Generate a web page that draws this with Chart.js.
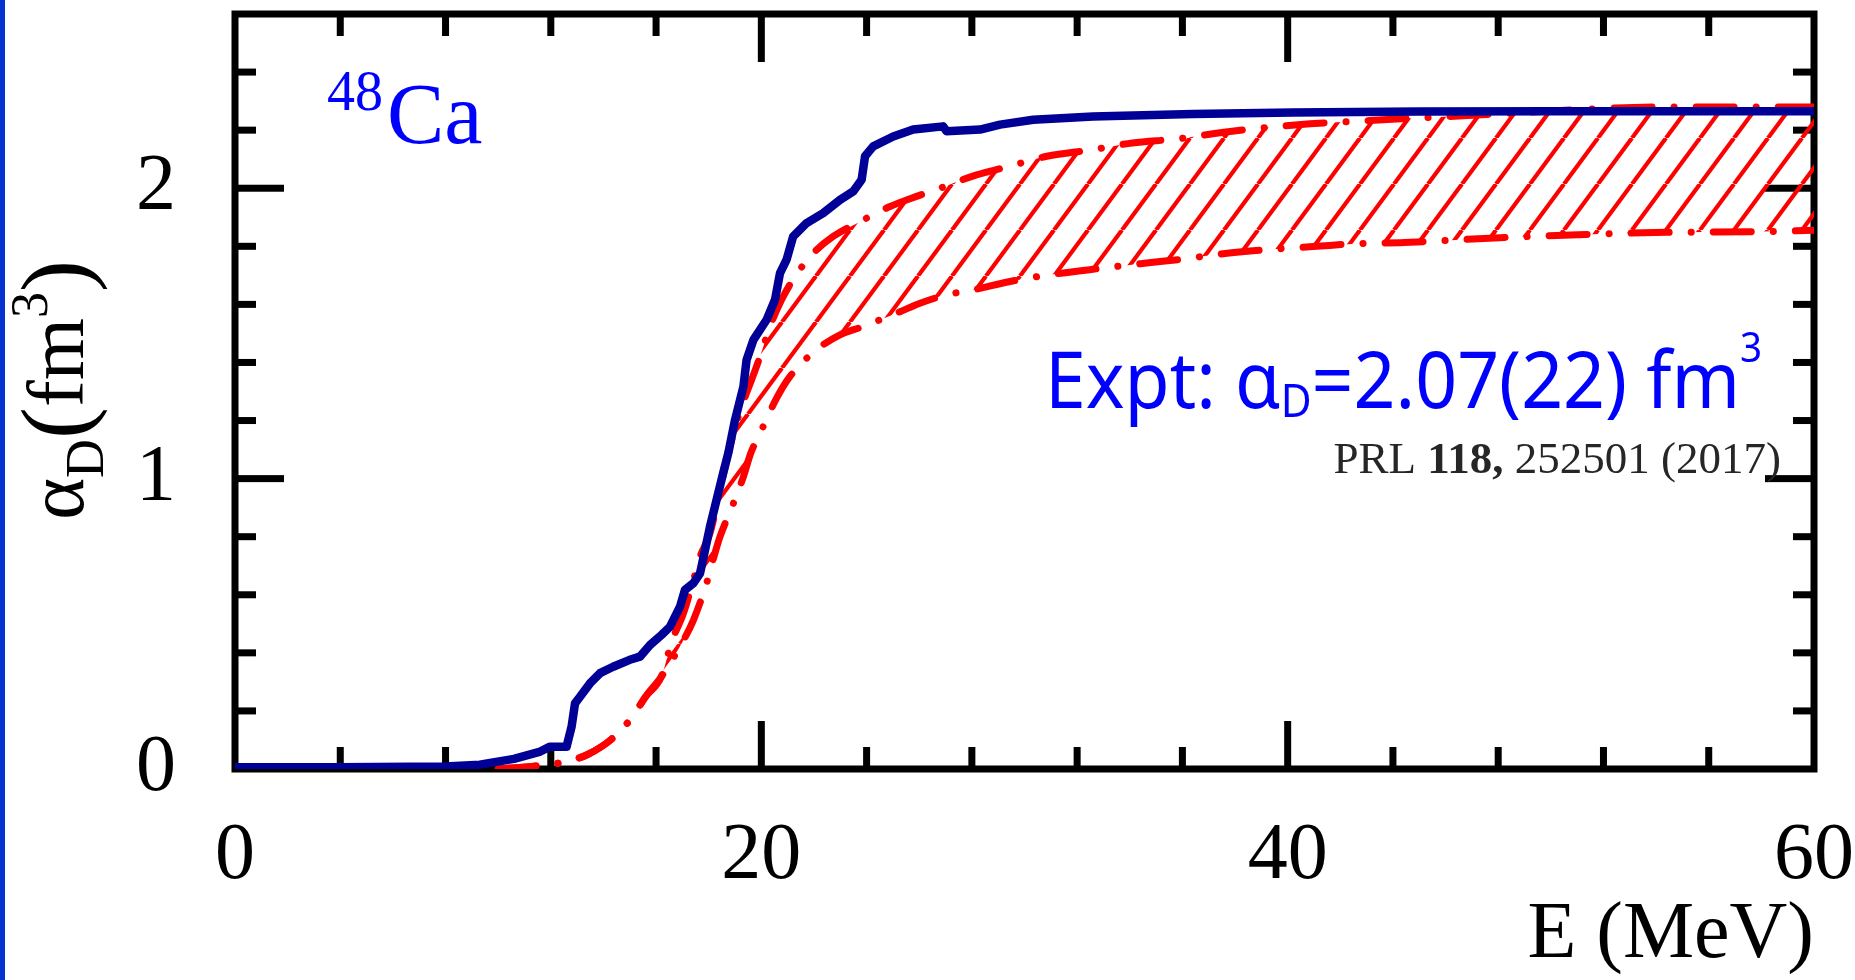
<!DOCTYPE html>
<html>
<head>
<meta charset="utf-8">
<script src="https://cdn.jsdelivr.net/npm/chart.js@4.4.1/dist/chart.umd.min.js"></script>
<style>
  html, body { margin: 0; padding: 0; background: #fff; }
  canvas { display: block; }
</style>
</head>
<body>
<canvas id="chart" width="1855" height="980"></canvas>
<script>
// values: E in MeV, alpha_D in fm^3
const blueE = [0, 4, 8, 9.3, 10.6, 11.6, 11.97, 12.6, 12.79, 12.92, 13.11, 13.49, 13.87, 14.37, 15.0, 15.39,
  15.77, 16.21, 16.53, 16.91, 17.1, 17.42, 17.67, 17.86, 18.05, 18.3, 18.55, 18.75, 19.0, 19.32, 19.44, 19.7,
  20.2, 20.52, 20.71, 20.96, 21.21, 21.72, 22.35, 22.99, 23.49, 23.81, 23.94, 24.25, 25.01, 25.77, 26.91,
  27.04, 28.31, 29.07, 30.33, 32.6, 36.4, 40.2, 45, 50, 55, 60];
const blueAlpha = [0.006, 0.006, 0.009, 0.015, 0.035, 0.06, 0.077, 0.077, 0.146, 0.226, 0.249, 0.295, 0.33,
  0.352, 0.376, 0.387, 0.427, 0.462, 0.49, 0.559, 0.617, 0.64, 0.674, 0.754, 0.835, 0.927, 1.019, 1.09, 1.202,
  1.317, 1.409, 1.478, 1.547, 1.616, 1.708, 1.754, 1.834, 1.88, 1.914, 1.96, 1.989, 2.029, 2.11, 2.144, 2.178,
  2.202, 2.213, 2.196, 2.202, 2.219, 2.236, 2.247, 2.256, 2.261, 2.264, 2.265, 2.265, 2.265];

const upperE = [10, 11.6, 12.4, 13.4, 14.4, 15.1, 15.6, 16.2, 16.6, 17.04, 17.42, 17.67, 18.05, 18.43, 18.87,
  19.25, 19.63, 19.95, 20.33, 20.77, 21.28, 21.97, 22.73, 23.75, 24.89, 25.9, 26.79, 28.18, 29.2, 30.85, 32.6,
  34.1, 35.8, 37.5, 39.05, 40.85, 42.5, 44.14, 47.37, 50.88, 54.26, 57.49, 60];
const upperAlpha = [0.0, 0.012, 0.022, 0.05, 0.11, 0.18, 0.249, 0.318, 0.44, 0.536, 0.651, 0.731, 0.812, 0.961,
  1.133, 1.248, 1.34, 1.42, 1.524, 1.616, 1.696, 1.776, 1.834, 1.885, 1.937, 1.972, 2.0, 2.046, 2.07, 2.11,
  2.133, 2.156, 2.17, 2.192, 2.208, 2.222, 2.23, 2.238, 2.253, 2.27, 2.28, 2.28, 2.28];

const lowerE = [10, 11.6, 12.4, 13.4, 14.4, 15.1, 15.6, 16.2, 16.97, 17.42, 17.92, 18.18, 18.43, 18.94, 19.32,
  19.6, 19.95, 20.58, 21.09, 22.1, 22.99, 23.87, 25.27, 26.03, 27.04, 28.05, 29.45, 30.97, 32.6, 34.4, 36.0,
  37.7, 39.45, 41.1, 42.6, 44.43, 47.66, 51.03, 54.4, 57.65, 60];
const lowerAlpha = [0.0, 0.012, 0.022, 0.05, 0.11, 0.18, 0.249, 0.318, 0.432, 0.513, 0.64, 0.725, 0.8, 0.915,
  1.007, 1.088, 1.156, 1.277, 1.352, 1.444, 1.495, 1.524, 1.575, 1.604, 1.633, 1.65, 1.679, 1.702, 1.721,
  1.74, 1.756, 1.776, 1.79, 1.8, 1.809, 1.813, 1.828, 1.84, 1.848, 1.85, 1.855];

const xLabels = [0, 20, 40, 60];
const yLabels = [0, 1, 2];

const SERIF = '"Liberation Serif", "Times New Roman", serif';
const RED = 'rgb(255,0,0)';
const BLUE = '#0000ff';

function toPoints(xs, ys) {
  return xs.map((x, i) => ({ x: x, y: ys[i] }));
}

// diagonal "/" hatching used between the two red curves
function makeHatch(color) {
  const w = 34, h = 46;
  const c = document.createElement('canvas');
  c.width = w; c.height = h;
  const g = c.getContext('2d');
  g.strokeStyle = color;
  g.lineWidth = 4.2;
  for (const dx of [-w, 0, w]) {
    g.beginPath();
    g.moveTo(dx, h);
    g.lineTo(dx + w, 0);
    g.stroke();
  }
  return g.createPattern(c, 'repeat');
}

function isOn(v, list) {
  return list.some(m => Math.abs(v - m) < 1e-6);
}

// keep the plot box where the figure has it: no extra label padding
function noPad(s) {
  s.paddingTop = 0;
  s.paddingBottom = 0;
  s.paddingLeft = 0;
  s.paddingRight = 0;
}

// black frame with inward ticks on all four sides
const frame = {
  id: 'frame',
  beforeDraw(chart) {
    const ctx = chart.ctx;
    ctx.save();
    ctx.fillStyle = '#0433d0';
    ctx.fillRect(0, 0, 5, chart.height);
    ctx.restore();
  },
  beforeDatasetsDraw(chart) {
    const { ctx, chartArea: a, scales } = chart;
    ctx.save();
    ctx.fillStyle = '#000';
    const tw = 7;
    scales.x.ticks.forEach(t => {
      if (t.value <= scales.x.min || t.value >= scales.x.max) return;
      const px = scales.x.getPixelForValue(t.value);
      const len = isOn(t.value, xLabels) ? 48 : 22;
      ctx.fillRect(px - tw / 2, a.bottom - len, tw, len);
      ctx.fillRect(px - tw / 2, a.top, tw, len);
    });
    scales.y.ticks.forEach(t => {
      if (t.value <= scales.y.min || t.value >= scales.y.max - 1e-6) return;
      const py = scales.y.getPixelForValue(t.value);
      const len = isOn(t.value, yLabels) ? 49 : 21;
      ctx.fillRect(a.left, py - tw / 2, len, tw);
      ctx.fillRect(a.right - len, py - tw / 2, len, tw);
    });
    ctx.lineWidth = 7;
    ctx.strokeStyle = '#000';
    ctx.strokeRect(a.left, a.top, a.right - a.left, a.bottom - a.top);
    ctx.restore();
  },
  afterDraw(chart) {
    const ctx = chart.ctx;
    ctx.save();

    // y axis title: alpha_D (fm^3), rotated
    const parts = [
      { t: 'α', f: '80px ' + SERIF, dy: 0 },
      { t: 'D', f: '54px ' + SERIF, dy: 20 },
      { t: '(', f: '96px ' + SERIF, dy: 4 },
      { t: 'fm', f: '80px ' + SERIF, dy: 0 },
      { t: '3', f: '52px ' + SERIF, dy: -36 },
      { t: ')', f: '96px ' + SERIF, dy: 4 }
    ];
    let total = 0;
    parts.forEach(p => { ctx.font = p.f; p.w = ctx.measureText(p.t).width; total += p.w; });
    ctx.translate(83, 390);
    ctx.rotate(-Math.PI / 2);
    ctx.fillStyle = '#000';
    ctx.textBaseline = 'alphabetic';
    let x = -total / 2;
    parts.forEach(p => { ctx.font = p.f; ctx.fillText(p.t, x, p.dy); x += p.w; });
    ctx.setTransform(1, 0, 0, 1, 0, 0);

    // 48Ca label
    ctx.fillStyle = BLUE;
    ctx.font = '56px ' + SERIF;
    ctx.fillText('48', 327, 110);
    const w48 = ctx.measureText('48').width;
    ctx.font = '86px ' + SERIF;
    ctx.fillText('Ca', 327 + w48 + 4, 143);

    // experimental value
    const SANS = '"Noto Sans", "Open Sans", sans-serif';
    const F = 78;
    const ex = [
      { t: 'Expt: α', s: 1, dy: 0 },
      { t: 'D', s: 0.58, dy: 9 },
      { t: '=2.07(22) fm', s: 1, dy: 0 },
      { t: '3', s: 0.52, dy: -46 }
    ];
    let ew = 0;
    ex.forEach((p, i) => {
      ctx.font = Math.round(F * p.s) + 'px ' + SANS;
      p.w = ctx.measureText(p.t).width;
      if (i < 3) ew += p.w;
    });
    const sx = 695 / ew;
    ctx.translate(1045, 408);
    ctx.scale(sx, 1);
    let ex0 = 0;
    ex.forEach(p => {
      ctx.font = Math.round(F * p.s) + 'px ' + SANS;
      ctx.fillText(p.t, ex0, p.dy);
      ex0 += p.w;
    });
    ctx.setTransform(1, 0, 0, 1, 0, 0);

    // reference
    const ref = [
      { t: 'PRL ', f: '45px ' + SERIF },
      { t: '118,', f: 'bold 45px ' + SERIF },
      { t: ' 252501 (2017)', f: '45px ' + SERIF }
    ];
    let rw = 0;
    ref.forEach(p => { ctx.font = p.f; p.w = ctx.measureText(p.t).width; rw += p.w; });
    let rx = 1781 - rw;
    ctx.fillStyle = '#262626';
    ref.forEach(p => { ctx.font = p.f; ctx.fillText(p.t, rx, 473); rx += p.w; });

    ctx.restore();
  }
};

const hatch = makeHatch(RED);

new Chart(document.getElementById('chart'), {
  type: 'line',
  data: {
    datasets: [
      {
        label: 'theory',
        data: toPoints(blueE, blueAlpha),
        borderColor: '#000096',
        borderWidth: 8.5,
        borderJoinStyle: 'round',
        borderCapStyle: 'round',
        pointRadius: 0,
        fill: false,
        order: 0
      },
      {
        label: 'upper',
        data: toPoints(upperE, upperAlpha),
        borderColor: RED,
        borderWidth: 7,
        borderDash: [38, 22, 0.1, 22],
        borderCapStyle: 'round',
        cubicInterpolationMode: 'monotone',
        pointRadius: 0,
        fill: '+1',
        backgroundColor: hatch,
        order: 1
      },
      {
        label: 'lower',
        data: toPoints(lowerE, lowerAlpha),
        borderColor: RED,
        borderWidth: 7,
        borderDash: [38, 22, 0.1, 22],
        borderCapStyle: 'round',
        cubicInterpolationMode: 'monotone',
        pointRadius: 0,
        fill: false,
        order: 2
      }
    ]
  },
  options: {
    responsive: false,
    animation: false,
    layout: { padding: { left: 0, right: 41, top: 14, bottom: 0 } },
    plugins: {
      legend: { display: false },
      tooltip: { enabled: false }
    },
    scales: {
      x: {
        type: 'linear',
        min: 0,
        max: 60,
        grid: { display: false, drawTicks: false },
        border: { display: false },
        ticks: {
          stepSize: 4,
          autoSkip: false,
          maxRotation: 0,
          padding: 40,
          color: '#000',
          font: { family: SERIF, size: 80 },
          callback: v => (isOn(v, xLabels) ? String(v) : '')
        },
        title: {
          display: true,
          text: 'E (MeV)',
          align: 'end',
          color: '#000',
          font: { family: SERIF, size: 80, lineHeight: 1 },
          padding: { top: 0, bottom: 4 }
        },
        afterFit: s => { s.height = 211; noPad(s); }
      },
      y: {
        min: 0,
        max: 2.6,
        grid: { display: false, drawTicks: false },
        border: { display: false },
        ticks: {
          stepSize: 0.2,
          autoSkip: false,
          padding: 59,
          color: '#000',
          font: { family: SERIF, size: 80 },
          callback: v => (isOn(v, yLabels) ? String(Math.round(v)) : '')
        },
        afterFit: s => { s.width = 235; noPad(s); }
      }
    }
  },
  plugins: [frame]
});
</script>
</body>
</html>
